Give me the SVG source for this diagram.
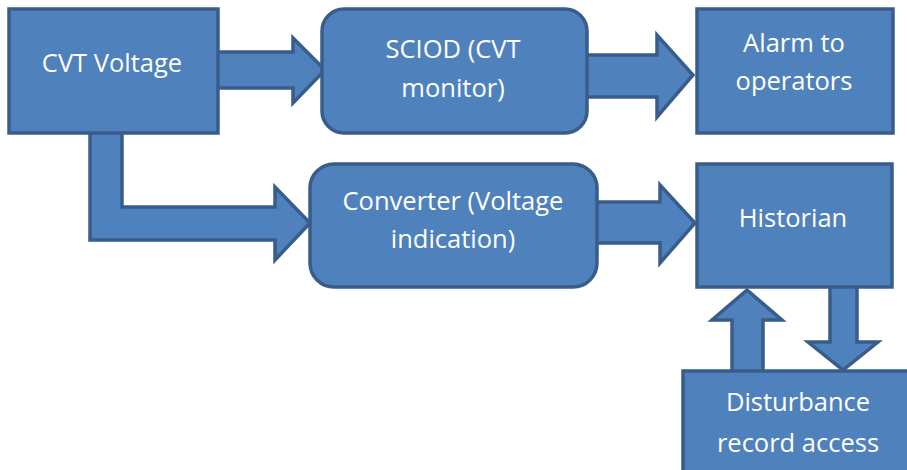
<svg xmlns="http://www.w3.org/2000/svg" width="907" height="470" viewBox="0 0 907 470">
  <style>
    .shape { fill: #4f81bd; stroke: #385d8a; stroke-width: 3.5; stroke-linejoin: miter; }
    .label { fill: #ffffff; font-family: "Open Sans", "Liberation Sans", sans-serif; font-size: 25.5px; text-anchor: middle; }
  </style>
  <rect width="907" height="470" fill="#ffffff"/>

  <!-- block arrows between the stages -->
  <g id="connectors">
    <polygon class="shape" points="214,52 293,52 293,38 325,70 293,103 293,88 214,88"/>
    <polygon class="shape" points="583,55 657,55 657,35 693,75 657,117 657,97 583,97"/>
    <polygon class="shape" points="90,129 90,240 275,240 275,260 310,223 275,187 275,207 122,207 122,129"/>
    <polygon class="shape" points="593,202 660,202 660,185 695,223 660,263 660,243 593,243"/>
    <polygon class="shape" points="732,374 732,320 712,320 747,290 782,320 763,320 763,374"/>
    <polygon class="shape" points="830,283 830,342 808,342 843,370 878,342 857,342 857,283"/>
  </g>

  <g id="cvt-voltage">
    <rect class="shape" x="9" y="9" width="209" height="124"/>
    <text class="label" x="112" y="72">CVT Voltage</text>
  </g>

  <g id="sciod">
    <rect class="shape" x="322" y="9" width="265" height="124" rx="22" ry="22"/>
    <text class="label" x="453" y="58">SCIOD (CVT</text>
    <text class="label" x="453" y="97">monitor)</text>
  </g>

  <g id="alarm">
    <rect class="shape" x="697" y="9" width="196" height="124"/>
    <text class="label" x="794" y="52">Alarm to</text>
    <text class="label" x="794" y="90">operators</text>
  </g>

  <g id="converter">
    <rect class="shape" x="310" y="164" width="287" height="123" rx="24" ry="24"/>
    <text class="label" x="453" y="210">Converter (Voltage</text>
    <text class="label" x="453" y="248">indication)</text>
  </g>

  <g id="historian">
    <rect class="shape" x="697" y="164" width="195" height="123"/>
    <text class="label" x="793" y="227">Historian</text>
  </g>

  <g id="disturbance">
    <rect class="shape" x="683" y="371" width="240" height="110"/>
    <text class="label" x="798" y="411">Disturbance</text>
    <text class="label" x="798" y="452">record access</text>
  </g>
</svg>
